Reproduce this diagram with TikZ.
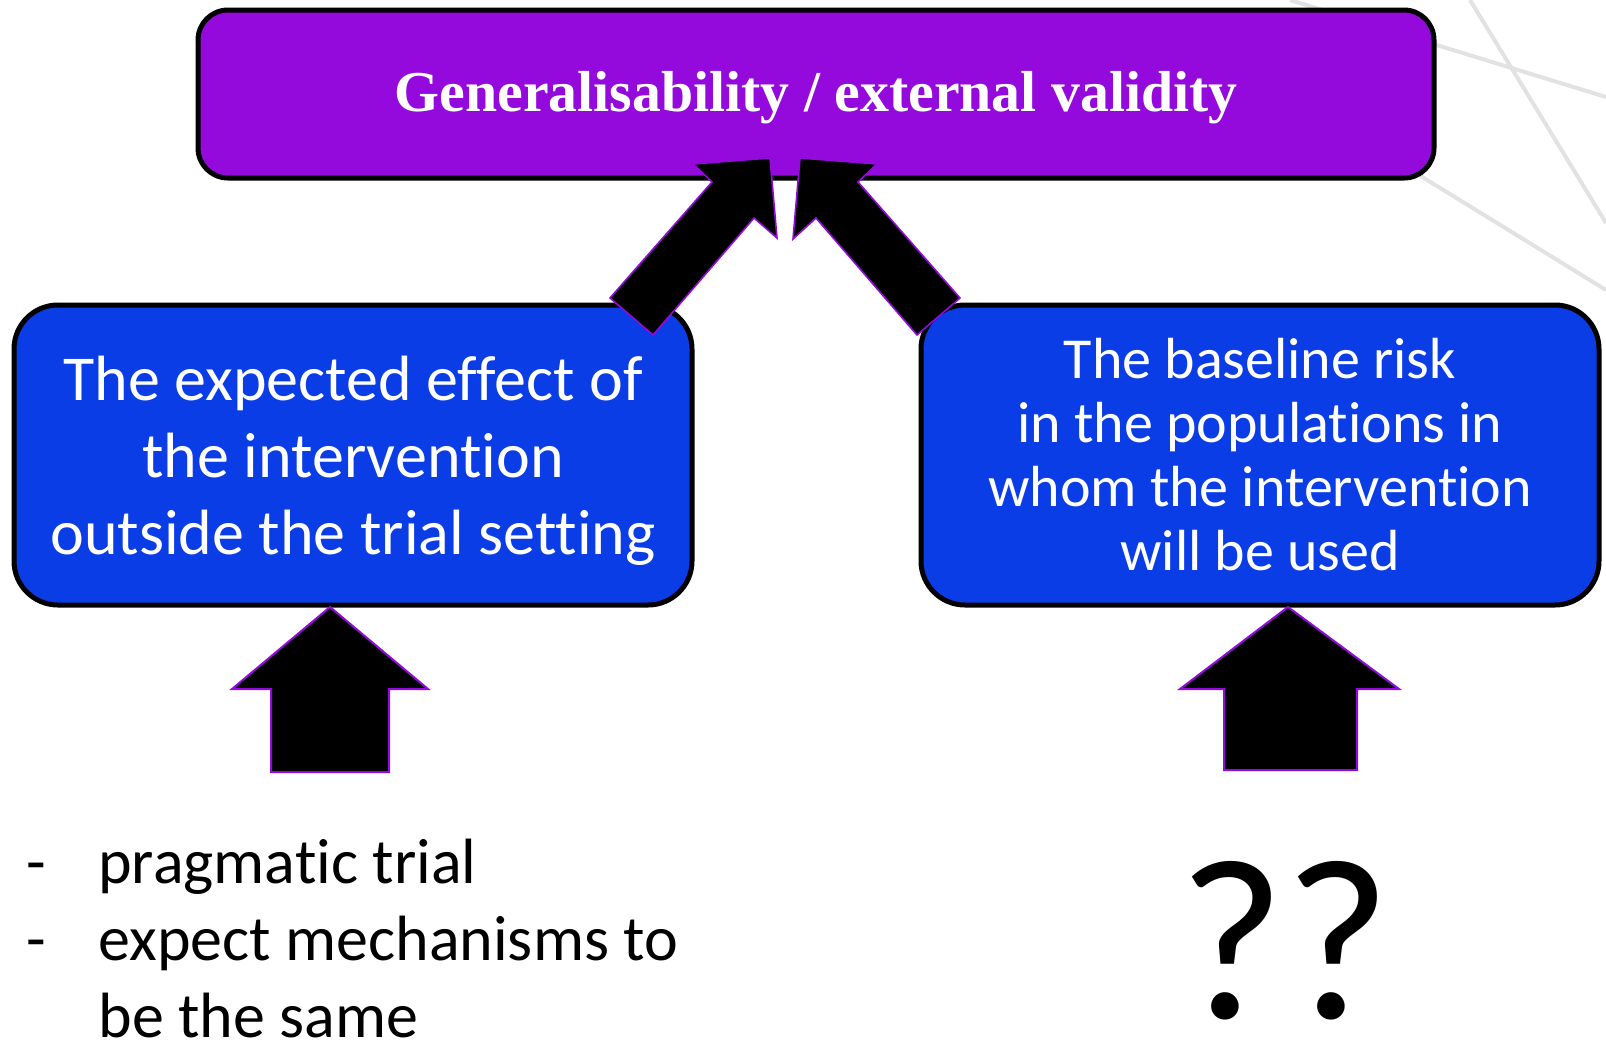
\documentclass[tikz,border=0pt]{standalone}
\usepackage{fontspec}
\setmainfont{Carlito}[Ligatures=NoCommon]
\newfontfamily\titlefont{Liberation Serif}
\usetikzlibrary{positioning}
\definecolor{hdrpurple}{RGB}{148,10,220}
\definecolor{boxblue}{RGB}{11,61,230}
\definecolor{bgline}{RGB}{226,226,226}
\tikzset{box/.style={draw=black,line width=2.5pt,rounded corners=22pt,text=white,align=center,inner sep=0pt}}
\tikzset{fatarrow/.style={fill=black,draw=hdrpurple,line width=0.8pt,line join=miter}}
\tikzset{bgstroke/.style={bgline,line width=2pt}}
\tikzset{note/.style={anchor=base west,inner sep=0pt,font=\fontsize{32}{38.5}\selectfont}}

\begin{document}
\begin{tikzpicture}[x=0.5pt,y=-0.5pt]
    \useasboundingbox (0,0) rectangle (1606,1041);
    \draw[bgstroke] (1290,0) -- (1606,97);
    \draw[bgstroke] (1470,0) -- (1606,223);
    \draw[bgstroke] (1380,151) -- (1606,290);
    \node[box,fill=hdrpurple,minimum width=618pt,minimum height=84pt,rounded corners=15pt,text depth=3pt,
        font=\titlefont\bfseries\fontsize{28.9}{32}\selectfont] (gen) at (816,94)
        {Generalisability / external validity};
    \node[box,fill=boxblue,minimum width=339pt,minimum height=150pt,text depth=0pt,font=\fontsize{32}{38.5}\selectfont] (effect) at (353,455)
        {The expected effect of\\the intervention\\outside the trial setting};
    \node[box,fill=boxblue,minimum width=339pt,minimum height=150pt,font=\fontsize{29}{32}\selectfont] (risk) at (1260,455)
        {The baseline risk\\in the populations in\\whom the intervention\\will be used};
    \filldraw[fatarrow] (610,298) -- (712,182) -- (693,164) -- (770,158) -- (777,238) -- (754,218) -- (653,335) -- cycle;
    \filldraw[fatarrow] (960,298) -- (858,182) -- (877,164) -- (800,158) -- (793,239) -- (816,218) -- (917,335) -- cycle;
    \filldraw[fatarrow,line width=1pt] (330,607) -- (428,689) -- (389,689) -- (389,772) -- (271,772) -- (271,689) -- (232,689) -- cycle;
    \filldraw[fatarrow,line width=1pt] (1288,607) -- (1399,689) -- (1357,689) -- (1357,770) -- (1224,770) -- (1224,689) -- (1180,689) -- cycle;
    \node[note] (prag) at (26,883) {\makebox[36pt][l]{-}pragmatic trial};
    \node[note] (mech) at (26,960) {\makebox[36pt][l]{-}expect mechanisms to};
    \node[note] (same) at (26,1037) {\hspace*{36pt}be the same};
    \node[anchor=base,inner sep=0pt,font=\fontsize{115}{115}\selectfont] (unknown) at (1285,1018) {??};
\end{tikzpicture}
\end{document}
